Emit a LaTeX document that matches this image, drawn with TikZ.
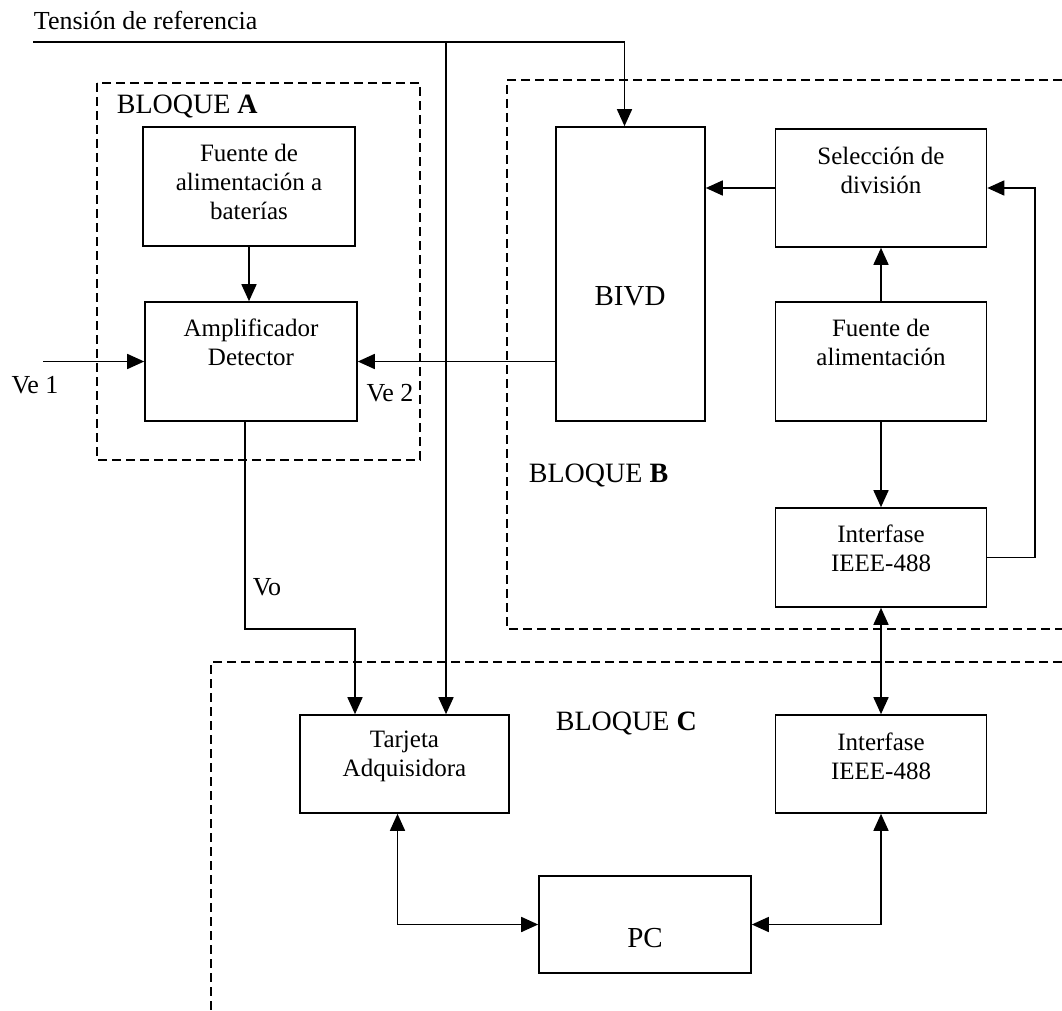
\documentclass[tikz,border=0pt]{standalone}
\usepackage{fontspec}
\setmainfont{Liberation Serif}
\usetikzlibrary{arrows.meta,calc}

\tikzset{
  blk/.style 2 args={draw, line width=1.6pt, minimum width=#1, minimum height=#2, inner sep=0pt},
  txt/.style={inner sep=0.75pt, align=center, font=\fontsize{25}{29}\selectfont},
  big/.style={inner sep=0.75pt, font=\fontsize{29}{33}\selectfont},
  lbl/.style={inner sep=0.75pt, font=\fontsize{26}{30}\selectfont},
  bloque/.style={inner sep=0.75pt, anchor=west, font=\fontsize{28}{32}\selectfont},
  wire/.style={line width=1.6pt},
  arr/.style={wire, -{Triangle[length=17pt,width=15pt]}},
  biarr/.style={wire, {Triangle[length=17pt,width=15pt]}-{Triangle[length=17pt,width=15pt]}},
  frame/.style={line width=2.4pt, dash pattern=on 9pt off 5pt},
}

\begin{document}
\begin{tikzpicture}[x=1pt,y=1pt,yscale=-1]
\useasboundingbox (0,0) rectangle (1062,1011);

%Dashed frames
\draw[frame] (97,83) rectangle (420,460);
\draw[frame] (1062,80) -- (507,80) -- (507,629) -- (1062,629);
\draw[frame] (1062,662) -- (211,662) -- (211,1011);

%Blocks
\draw (249,186.5) node [blk={212}{119}] (fuenteA) {};
\draw (251,361.5) node [blk={212}{119}] (amp) {};
\draw (630.5,274) node [blk={149}{294}] (bivd) {};
\draw (881,188) node [blk={211}{118}] (sel) {};
\draw (881,361.5) node [blk={211}{119}] (fuenteB) {};
\draw (881,557.5) node [blk={211}{99}] (intB) {};
\draw (404.5,764) node [blk={209}{98}] (tarjeta) {};
\draw (881,764) node [blk={211}{98}] (intC) {};
\draw (645,924.5) node [blk={212}{97}] (pc) {};

% Text Node
\draw (249,182) node [txt] (fuenteAt) {Fuente de\\alimentación a\\baterías};
% Text Node
\draw (251,342) node [txt] (ampt) {Amplificador\\Detector};
% Text Node
\draw (630,296) node [big] (bivdt) {BIVD};
% Text Node
\draw (881,170) node [txt] (selt) {Selección de\\división};
% Text Node
\draw (881,342) node [txt] (fuenteBt) {Fuente de\\alimentación};
% Text Node
\draw (881,548) node [txt] (intBt) {Interfase\\IEEE-488};
% Text Node
\draw (404.5,756) node [txt] (tarjetat) {Tarjeta\\Adquisidora};
% Text Node
\draw (881,756) node [txt] (intCt) {Interfase\\IEEE-488};
% Text Node
\draw (645,938) node [big] (pct) {PC};

% Text Node
\draw (33,20) node [anchor=west, inner sep=0.75pt, font=\fontsize{26}{30}\selectfont] (tension) {Tensión de referencia};
% Text Node
\draw (116,107) node [bloque] (bloqueA) {BLOQUE \textbf{A}};
% Text Node
\draw (528,475) node [bloque] (bloqueB) {BLOQUE \textbf{B}};
% Text Node
\draw (555,723) node [bloque] (bloqueC) {BLOQUE \textbf{C}};
% Text Node
\draw (35,385) node [lbl] (ve1) {Ve 1};
% Text Node
\draw (390,393) node [lbl] (ve2) {Ve 2};
% Text Node
\draw (267,587) node [lbl] (vo) {Vo};

%Free ends and bends
\coordinate (refin) at (33,42);
\coordinate (refbr) at (446,42);
\coordinate (ve1in) at (43,361.5);
\coordinate (vobend) at (355,629);
\coordinate (fbtop) at (1035,188);

%Straight Lines
\draw[arr] (refin) -| ($(bivd.north)+(-6,0)$);
\draw[arr] (refbr) -- (refbr |- tarjeta.north);
\draw[arr] (fuenteA.south) -- (fuenteA.south |- amp.north);
\draw[arr] (ve1in) -- (amp.west);
\draw[arr] (bivd.west |- amp.east) -- (amp.east);
\draw[arr] (sel.west) -- (sel.west -| bivd.east);
\draw[arr] (fuenteB.north) -- (sel.south);
\draw[arr] (fuenteB.south) -- (intB.north);
\draw[arr] (intB.east) -| (fbtop) -- (sel.east);
\draw[arr] ($(amp.south)+(-6,0)$) |- (vobend) -- (vobend |- tarjeta.north);
\draw[biarr] (intB.south) -- (intC.north);
\draw[biarr] ($(tarjeta.south)+(-7,0)$) |- (pc.west);
\draw[biarr] (intC.south) |- (pc.east);

\end{tikzpicture}
\end{document}
